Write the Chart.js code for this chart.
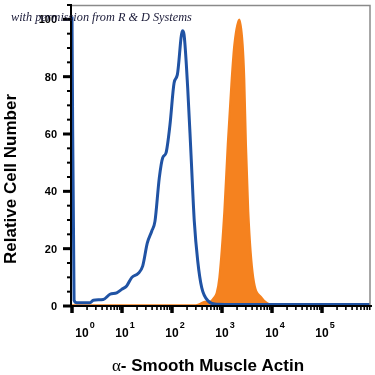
<!DOCTYPE html>
<html>
<head>
<meta charset="utf-8">
<script src="https://cdn.jsdelivr.net/npm/chart.js@4"></script>
<style>
  html, body { margin: 0; padding: 0; background: #fff; }
  #wrap { width: 375px; height: 375px; }
</style>
</head>
<body>
<div id="wrap"><canvas id="histChart" width="375" height="375"></canvas></div>
<script>
  // isotype control (blue outline)
  const controlX = [1, 1.1, 1.25, 2.29, 2.67, 4.23, 5.75, 7.83, 9.86, 12.4, 15.6, 21.2, 25.9, 32.1, 39.3,
    45.7, 55.7, 65.2, 75.9, 91.2, 110, 128, 162, 174, 206, 240, 279, 327, 393, 532, 783, 2000, 912000];
  const controlY = [101, 2, 1.1, 1.1, 2.0, 2.3, 4.1, 4.6, 5.8, 7.0, 9.9, 11.4, 13.9, 22, 26.1,
    29.6, 44.7, 51.7, 53.4, 63.3, 77.8, 80.7, 96, 94.7, 76.1, 52.9, 29.6, 15.7, 6.4, 1.7, 0.6, 0.5, 0.5];

  // alpha-SMA stained (orange filled)
  const stainedX = [1, 300, 350, 450, 560, 700, 780, 883, 1112, 1300, 1563, 1762, 2218, 2594, 2793,
    3020, 3357, 4227, 6223, 8000, 10500, 912000];
  const stainedY = [0.3, 0.3, 0.6, 1.5, 1.4, 3, 4.5, 9.9, 33.1, 56.3, 79.5, 91.2, 99.9, 91.2, 79.5,
    56.3, 33.1, 9.9, 2.9, 1.0, 0.4, 0.3];

  const xDecades = [0, 1, 2, 3, 4, 5];
  const yTickLabels = [0, 20, 40, 60, 80, 100];
  const xMax = 912000;
  const yMax = 105;

  const BLUE = "#2053a4";
  const ORANGE = "#f5821f";
  const SANS = '"Liberation Sans", Arial, sans-serif';

  const axesPlugin = {
    id: "axesPlugin",
    afterDraw(chart) {
      const ctx = chart.ctx;
      const area = chart.chartArea;
      const xs = chart.scales.x;
      const ys = chart.scales.y;
      ctx.save();

      // frame top / right
      ctx.strokeStyle = "#8a8a8a";
      ctx.lineWidth = 1.5;
      ctx.beginPath();
      ctx.moveTo(area.left, area.top + 0.5);
      ctx.lineTo(area.right, area.top + 0.5);
      ctx.lineTo(area.right, area.bottom);
      ctx.stroke();

      // y axis
      ctx.strokeStyle = "#000";
      ctx.lineWidth = 2;
      ctx.beginPath();
      ctx.moveTo(area.left - 1, area.top);
      ctx.lineTo(area.left - 1, area.bottom + 1);
      ctx.stroke();

      for (let v = 0; v <= yMax; v += 5) {
        const py = ys.getPixelForValue(v);
        const major = v % 20 === 0;
        ctx.lineWidth = major ? 3 : 2;
        ctx.beginPath();
        ctx.moveTo(area.left - (major ? 9 : 5), py);
        ctx.lineTo(area.left, py);
        ctx.stroke();
      }

      ctx.fillStyle = "#000";
      ctx.font = "bold 11px " + SANS;
      ctx.textAlign = "right";
      ctx.textBaseline = "middle";
      yTickLabels.forEach((v) => {
        ctx.fillText(String(v), area.left - 15, ys.getPixelForValue(v) + 1);
      });

      // x axis
      ctx.lineWidth = 2;
      ctx.beginPath();
      ctx.moveTo(area.left - 9, area.bottom);
      ctx.lineTo(area.right + 2, area.bottom);
      ctx.stroke();

      xDecades.forEach((d) => {
        const base = Math.pow(10, d);
        for (let k = 1; k <= 9; k++) {
          const val = k * base;
          if (val > xMax) break;
          const px = xs.getPixelForValue(val);
          ctx.lineWidth = k === 1 ? 3.5 : 1.6;
          ctx.beginPath();
          ctx.moveTo(px, area.bottom);
          ctx.lineTo(px, area.bottom + (k === 1 ? 7 : 4));
          ctx.stroke();
        }
        // label 10^d
        let cx = xs.getPixelForValue(base);
        if (d === 0) cx += 10;
        ctx.font = "bold 12px " + SANS;
        ctx.textAlign = "center";
        ctx.textBaseline = "alphabetic";
        ctx.fillText("10", cx, 337);
        const w = ctx.measureText("10").width;
        ctx.font = "bold 9px " + SANS;
        ctx.textAlign = "left";
        ctx.fillText(String(d), cx + w / 2 + 1, 328);
      });

      // x title
      ctx.textBaseline = "alphabetic";
      const restText = "- Smooth Muscle Actin";
      ctx.font = "17px \"Liberation Serif\", serif";
      const aW = ctx.measureText("\u03b1").width;
      ctx.font = "bold 17px " + SANS;
      const rW = ctx.measureText(restText).width;
      const startX = 208 - (aW + rW) / 2;
      ctx.font = "17px \"Liberation Serif\", serif";
      ctx.textAlign = "left";
      ctx.fillText("\u03b1", startX, 371);
      ctx.font = "bold 17px " + SANS;
      ctx.fillText(restText, startX + aW, 371);

      // y title
      ctx.save();
      ctx.translate(16, 179);
      ctx.rotate(-Math.PI / 2);
      ctx.textAlign = "center";
      ctx.font = "bold 17px " + SANS;
      ctx.fillText("Relative Cell Number", 0, 0);
      ctx.restore();

      // permission note
      const note = "with permission from R & D Systems";
      ctx.font = "italic 12px \"Liberation Serif\", serif";
      const nW = ctx.measureText(note).width;
      const size = 12 * 181 / nW;
      ctx.font = "italic " + size.toFixed(2) + "px \"Liberation Serif\", serif";
      ctx.fillStyle = "#1a1a38";
      ctx.textAlign = "left";
      ctx.fillText(note, 11, 21);

      ctx.restore();
    },
  };

  new Chart(document.getElementById("histChart"), {
    type: "line",
    data: {
      datasets: [
        {
          label: "Control",
          data: controlX.map((x, i) => ({ x: x, y: controlY[i] })),
          borderColor: BLUE,
          borderWidth: 3,
          fill: false,
          pointRadius: 0,
          cubicInterpolationMode: "monotone",
        },
        {
          label: "alpha-SMA",
          data: stainedX.map((x, i) => ({ x: x, y: stainedY[i] })),
          borderColor: ORANGE,
          backgroundColor: ORANGE,
          borderWidth: 2,
          fill: "origin",
          pointRadius: 0,
          cubicInterpolationMode: "monotone",
        },
      ],
    },
    options: {
      responsive: false,
      animation: false,
      devicePixelRatio: 1,
      layout: { padding: { top: 5, right: 5, left: 0, bottom: 0 } },
      plugins: { legend: { display: false }, tooltip: { enabled: false } },
      scales: {
        x: {
          type: "logarithmic",
          min: 1,
          max: xMax,
          ticks: { display: false },
          grid: { display: false },
          border: { display: false },
          afterFit: (s) => { s.height = 69; },
        },
        y: {
          min: 0,
          max: yMax,
          ticks: { display: false },
          grid: { display: false },
          border: { display: false },
          afterFit: (s) => { s.width = 72; },
        },
      },
    },
    plugins: [axesPlugin],
  });
</script>
</body>
</html>
